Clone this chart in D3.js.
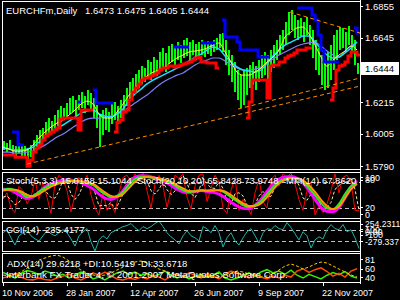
<!DOCTYPE html>
<html><head><meta charset="utf-8">
<script src="https://cdn.jsdelivr.net/npm/d3@7"></script>
<style>html,body{margin:0;padding:0;background:#000;overflow:hidden}svg{display:block}text{font-family:"Liberation Sans",Arial,sans-serif;fill:#fff}</style>
</head><body><svg id="c" width="400" height="300"></svg>
<script>
const symbolTitle = "EURCHFm,Daily";
const ohlcText = "1.6473 1.6475 1.6405 1.6444";
const lastPrice = 1.6444;
const priceTicks = [1.6855, 1.6645, 1.6215, 1.6005, 1.5790];
const dateLabels = ["10 Nov 2006","28 Jan 2007","12 Apr 2007","26 Jun 2007","9 Sep 2007","22 Nov 2007"];
const dateBars = [0,64,128,192,256,320];
const priceStep = 3;
const high = [1.5956,1.5943,1.5963,1.5929,1.5923,1.5943,1.5936,1.5923,1.5909,1.5929,
 1.5963,1.5996,1.6029,1.6043,1.6082,1.6109,1.6089,1.6129,1.6162,1.6189,
 1.6176,1.6209,1.6242,1.6256,1.6229,1.6262,1.6282,1.6256,1.6296,1.6276,
 1.6242,1.6196,1.6129,1.6162,1.6176,1.6149,1.6202,1.6216,1.6189,1.6229,
 1.6262,1.6309,1.6349,1.6376,1.6402,1.6429,1.6455,1.6442,1.6495,1.6482,
 1.6515,1.6495,1.6549,1.6575,1.6542,1.6589,1.6602,1.6575,1.6615,1.6595,
 1.6629,1.6642,1.6615,1.6629,1.6602,1.6615,1.6629,1.6602,1.6622,1.6609,
 1.6629,1.6642,1.6669,1.6675,1.6629,1.6562,1.6529,1.6482,1.6429,1.6396,
 1.6429,1.6442,1.6462,1.6482,1.6455,1.6495,1.6529,1.6549,1.6529,1.6562,
 1.6595,1.6629,1.6662,1.6695,1.6749,1.6815,1.6828,1.6795,1.6762,1.6775,
 1.6749,1.6782,1.6729,1.6695,1.6629,1.6575,1.6529,1.6495,1.6549,1.6595,
 1.6662,1.6695,1.6715,1.6709,1.6682,1.6722,1.6662,1.6629,1.6475];
const low = [1.5896,1.5883,1.5896,1.5863,1.5849,1.5876,1.5856,1.5843,1.5823,1.5849,
 1.5883,1.5909,1.5929,1.5963,1.5989,1.6009,1.6016,1.6043,1.6056,1.6082,
 1.6096,1.6109,1.6136,1.6149,1.6122,1.6162,1.6176,1.6142,1.6196,1.6162,
 1.6109,1.6043,1.5916,1.5996,1.6029,1.6016,1.6069,1.6096,1.6069,1.6109,
 1.6149,1.6189,1.6229,1.6256,1.6282,1.6309,1.6336,1.6349,1.6376,1.6362,
 1.6396,1.6389,1.6429,1.6442,1.6415,1.6469,1.6482,1.6455,1.6495,1.6475,
 1.6509,1.6522,1.6495,1.6529,1.6495,1.6515,1.6529,1.6515,1.6535,1.6522,
 1.6549,1.6562,1.6575,1.6549,1.6462,1.6396,1.6349,1.6282,1.6229,1.6176,
 1.6196,1.6262,1.6309,1.6329,1.6296,1.6349,1.6376,1.6396,1.6362,1.6415,
 1.6442,1.6495,1.6529,1.6562,1.6595,1.6662,1.6695,1.6642,1.6629,1.6655,
 1.6615,1.6662,1.6595,1.6509,1.6429,1.6396,1.6329,1.6296,1.6309,1.6362,
 1.6429,1.6495,1.6562,1.6575,1.6549,1.6595,1.6549,1.6462,1.6405];
const redStop = [1.5863,1.5863,1.5863,1.5863,1.5849,1.5849,1.5849,1.5849,1.5789,1.5829,
 1.5883,1.5909,1.5929,1.5963,1.5989,1.6003,1.6016,1.6029,1.6043,1.6102,
 1.6109,1.6109,1.6109,1.6109,1.6109,1.6029,1.6162,1.6162,1.6162,1.6162,
 null,null,null,null,null,null,null,1.6016,1.6082,1.6096,
 1.6149,1.6162,1.6229,1.6282,1.6309,1.6336,1.6362,1.6376,1.6376,1.6389,
 1.6396,1.6409,1.6429,1.6442,1.6442,1.6455,1.6455,1.6449,1.6455,1.6462,
 1.6469,1.6475,1.6482,1.6495,1.6509,1.6515,1.6482,1.6482,1.6475,1.6475,
 1.6475,1.6442,null,null,null,null,null,null,null,null,
 null,1.6109,1.6216,1.6362,1.6362,1.6362,1.6362,1.6362,1.6242,1.6455,
 1.6462,1.6462,1.6482,1.6482,1.6509,1.6522,1.6529,1.6542,1.6562,1.6562,
 1.6562,1.6575,1.6575,null,null,null,null,null,null,1.6229,
 1.6309,1.6429,1.6455,1.6462,1.6482,1.6522,1.6549,1.6549,1.6529];
const blueStop = [null,null,null,1.6016,1.6016,1.5929,1.5929,null,null,null,
 null,null,null,null,null,null,null,null,null,null,
 null,null,null,null,null,1.6216,null,null,null,null,
 1.6296,1.6209,1.6209,1.6209,1.6209,1.6209,1.6209,null,null,null,
 null,null,null,null,null,null,null,null,null,null,
 null,null,null,null,null,null,null,1.6582,1.6582,1.6582,
 1.6582,1.6582,null,null,null,null,1.6609,1.6609,1.6609,1.6609,
 1.6609,null,null,1.6762,1.6649,1.6649,1.6649,1.6649,1.6615,1.6562,
 1.6562,1.6562,1.6562,1.6562,1.6562,1.6515,1.6515,1.6515,1.6515,null,
 null,null,null,null,null,null,null,null,1.6842,1.6842,
 1.6842,1.6842,1.6842,1.6795,1.6762,1.6662,1.6562,1.6482,1.6482,1.6482,
 1.6482,1.6482,null,null,null,null,null,1.6708,1.6675];
const maStep = 6;
const maFast = [1.5916,1.5903,1.5889,1.5889,1.5896,1.5929,1.5976,1.6016,1.6049,1.6076,
 1.6096,1.6129,1.6162,1.6202,1.6222,1.6202,1.6136,1.6109,1.6109,1.6149,
 1.6202,1.6262,1.6309,1.6356,1.6389,1.6415,1.6429,1.6449,1.6482,1.6509,
 1.6529,1.6549,1.6555,1.6562,1.6575,1.6595,1.6609,1.6549,1.6482,1.6415,
 1.6395,1.6395,1.6415,1.6442,1.6482,1.6515,1.6562,1.6649,1.6682,1.6709,
 1.6715,1.6669,1.6595,1.6515,1.6455,1.6495,1.6529,1.6555,1.6589,1.6562];
const maMid = [1.5909,1.5903,1.5896,1.5896,1.5903,1.5916,1.5949,1.5983,1.6016,1.6043,
 1.6063,1.6089,1.6116,1.6142,1.6156,1.6162,1.6136,1.6122,1.6116,1.6136,
 1.6169,1.6229,1.6269,1.6302,1.6336,1.6362,1.6382,1.6402,1.6422,1.6442,
 1.6462,1.6489,1.6515,1.6535,1.6562,1.6582,1.6569,1.6522,1.6482,1.6449,
 1.6429,1.6422,1.6415,1.6429,1.6475,1.6522,1.6562,1.6595,1.6615,1.6635,
 1.6655,1.6655,1.6615,1.6569,1.6529,1.6509,1.6515,1.6542,1.6575,1.6615];
const maSlow = [1.5883,1.5883,1.5876,1.5876,1.5883,1.5889,1.5909,1.5929,1.5956,1.5983,
 1.6003,1.6029,1.6056,1.6082,1.6102,1.6109,1.6109,1.6116,1.6122,1.6136,
 1.6156,1.6182,1.6209,1.6236,1.6262,1.6296,1.6329,1.6356,1.6376,1.6395,
 1.6409,1.6435,1.6462,1.6482,1.6495,1.6509,1.6509,1.6489,1.6462,1.6442,
 1.6429,1.6429,1.6435,1.6449,1.6475,1.6502,1.6529,1.6549,1.6569,1.6589,
 1.6602,1.6609,1.6615,1.6589,1.6555,1.6529,1.6515,1.6555,1.6589,1.6615];
// trend lines: [bar0, price0, bar1, price1]
const trendLines = [[24,1.5803,357,1.6322],[235,1.6169,357,1.6376],[287,1.6815,357,1.6675]];

const stochLabels = ["Stoch(5,3,3) 15.0158 15.1044","Stoch(20,10,20) 65.8428 73.9748","MFI(14) 67.8620"];
const fastStep = 4;
const stochFast = [40,55,20,10,70,60,30,45,85,40, 80,45,8,75,95,85,60,12,50,90,
 75,95,50,20,5,55,15,30,10,55, 90,95,80,98,85,100,60,20,75,95,
 70,22,60,95,88,98,45,18,70,95, 98,35,65,95,80,20,8,60,90,15,
 40,25,5,55,85,35,20,85,95,70, 98,90,100,75,40,15,60,80,5,25,
 10,30,60,98,55,90,95,80,15,15.0158];
const stochFastSignal = [45,48,38,28,33,47,53,45,53,57, 68,55,44,43,59,85,80,52,40,51,
 72,87,73,55,25,27,25,33,18,32, 52,80,88,91,88,94,82,60,52,63,
 80,62,51,59,81,94,77,54,44,61, 88,76,66,65,80,65,36,29,53,55,
 48,27,23,28,48,58,47,47,67,83, 88,86,96,88,72,43,38,52,48,37,
 13,22,33,63,71,81,80,88,63,15.1044];
const stochSlowMain = [61,64,61,55,45,48,57,66,73,77, 80,82,82,80,77,73,61,52,45,48,
 57,73,86,91,91,89,86,82,77,68, 61,57,59,61,59,61,61,55,45,36,
 27,23,27,36,52,68,80,86,89,86, 80,66,50,32,20,18,30,52,70,77];
const stochSlowSignal = [60,62,62,58,50,47,52,61,69,75, 78,81,82,81,79,75,66,56,48,46,
 52,66,80,88,91,90,88,84,80,72, 65,59,58,60,60,60,61,58,50,40,
 31,25,25,31,45,62,76,84,88,88, 83,72,57,39,25,18,24,43,63,75];
const thirdOsc = [63,62,56,48,42,45,56,68,76,80, 84,84,82,78,72,64,52,43,40,46,
 60,78,90,94,93,90,86,80,72,63, 57,55,58,60,58,56,52,44,34,25,
 20,19,26,40,58,75,86,91,92,88, 78,60,40,22,13,12,22,44,68,82];

const cciLabel = "CCI(14) -235.4177";
const cci = [45,100,-45,-173,-9,45,82,-9,-64,-100, -9,82,27,-9,45,100,45,-64,-191,-9,
 64,118,-118,-279.337,-82,-9,-64,45,82,118, 155,173,209,136,82,155,118,155,209,254.2311,
 155,45,-27,-82,-155,-9,82,-9,-45,-100, 155,118,45,173,45,-209,-45,45,-100,-173,
 -45,64,118,-9,-136,45,118,100,173,118, 100,227,136,27,-82,64,-9,-227,-82,-27,
 -64,100,191,118,100,191,64,100,-45,-235.4177];

const adxLabel = "ADX(14) 29.6218 +DI:10.5419 -DI:33.6718";
const copyright = "Interbank FX Trader 4, \u00A9 2001-2007 MetaQuotes Software Corp.";
const adx = [46.5,44.3,48.6,53,61.6,70.2,78.8,83.2,87.5,89.6, 85.3,76.7,65.9,57.3,50.8,46.5,44.3,46.5,50.8,57.3,
 63.7,70.2,74.5,76.7,72.4,65.9,59.4,55.1,50.8,46.5, 44.3,42.2,42.2,44.3,44.3,42.2,42.2,46.5,50.8,55.1,
 53,48.6,44.3,42.2,44.3,48.6,57.3,65.9,70.2,65.9, 59.4,63.7,70.2,74.5,72.4,65.9,59.4,53,46.5,42.2];
const plusDI = [52,46,40,50,56,53,47,55,51,44, 48,40,46,53,49,38,42,36,44,51,
 55,48,53,46,50,43,48,55,46,40, 45,38,43,48,42,46,53,40,36,40,
 45,51,44,53,58,51,55,48,57,46, 40,48,43,38,46,52,47,54,44,40];
const minusDI = [40,44,49,42,37,36,40,37,35,40, 44,49,40,36,42,51,46,53,45,38,
 36,40,37,42,38,46,42,36,44,49, 43,51,46,40,48,44,38,48,55,51,
 46,40,48,42,38,44,40,46,42,55, 60,52,58,62,54,44,50,42,55,60];

// ---------- drawing ----------
const svg = d3.select('#c');
svg.append('rect').attr('width',400).attr('height',300).attr('fill','#000');
const L = 2, R = 360;
const panels = {
  main: {top:1, bottom:169},
  stoch:{top:172, bottom:218},
  cci:  {top:221, bottom:251},
  adx:  {top:253, bottom:282}
};
const xs = d3.scaleLinear().domain([0,357]).range([3,360]);
const yP = d3.scaleLinear().domain([1.5790,1.6855]).range([166,6]);
const yS = d3.scaleLinear().domain([0,100]).range([217,173]);
const yC = d3.scaleLinear().domain([-279.337,254.2311]).range([251,221]);
const yA = d3.scaleLinear().domain([31.4,94]).range([282,253]);

const defs = svg.append('defs');
Object.entries(panels).forEach(([k,p])=>{
  defs.append('clipPath').attr('id','clip-'+k).append('rect')
    .attr('x',L+1).attr('y',p.top+1).attr('width',R-L-1).attr('height',p.bottom-p.top-1);
});
const g = {};
Object.keys(panels).forEach(k=>{ g[k] = svg.append('g').attr('clip-path','url(#clip-'+k+')'); });

// main: price bars
g.main.selectAll('rect.bar').data(high).join('rect').attr('class','bar')
  .attr('x',(d,k)=>xs(k*priceStep)).attr('width',2)
  .attr('y',d=>yP(d)).attr('height',(d,k)=>Math.max(1,yP(low[k])-yP(d)))
  .attr('fill','#00ff00').attr('shape-rendering','crispEdges');

const maLine = d3.line().x((d,j)=>xs(j*maStep)).y(d=>yP(d)).curve(d3.curveMonotoneX);
g.main.append('path').attr('d',maLine(maSlow)).attr('fill','none').attr('stroke','#8080ff').attr('stroke-width',1.2);
g.main.append('path').attr('d',maLine(maMid)).attr('fill','none').attr('stroke','#20e0ff').attr('stroke-width',1.5);
g.main.append('path').attr('d',maLine(maFast)).attr('fill','none').attr('stroke','#ffff40').attr('stroke-width',1);

function stepPath(vals, step, ys){
  let d='';
  vals.forEach((v,k)=>{
    if(v==null) return;
    const x0=xs(k*step), x1=xs(k*step+step), y=ys(v);
    d += (k>0 && vals[k-1]!=null) ? `L${x0},${y}` : `M${x0},${y}`;
    d += `L${x1},${y}`;
  });
  return d;
}
g.main.append('path').attr('d',stepPath(redStop,priceStep,yP)).attr('fill','none').attr('stroke','#ff0000').attr('stroke-width',3);
g.main.append('path').attr('d',stepPath(blueStop,priceStep,yP)).attr('fill','none').attr('stroke','#0000ff').attr('stroke-width',3);

trendLines.forEach(t=>{
  g.main.append('line').attr('x1',xs(t[0])).attr('y1',yP(t[1])).attr('x2',xs(t[2])).attr('y2',yP(t[3]))
    .attr('stroke','#ff8c00').attr('stroke-width',1).attr('stroke-dasharray','4,3');
});

// stoch panel
[20,80].forEach(v=>g.stoch.append('line').attr('x1',L).attr('x2',R).attr('y1',Math.round(yS(v))+0.5).attr('y2',Math.round(yS(v))+0.5)
  .attr('stroke','#c0c0c0').attr('stroke-dasharray','4,3'));
const fastLine = d3.line().x((d,m)=>xs(m*fastStep)).y(d=>yS(d));
g.stoch.append('path').attr('d',fastLine(stochFast)).attr('fill','none').attr('stroke','#ff0000').attr('stroke-width',1);
g.stoch.append('path').attr('d',fastLine(stochFastSignal)).attr('fill','none').attr('stroke','#ffe8a0').attr('stroke-width',1).attr('stroke-dasharray','3,2');
const slowLine = d3.line().x((d,j)=>xs(j*maStep)).y(d=>yS(d)).curve(d3.curveMonotoneX);
g.stoch.append('path').attr('d',slowLine(thirdOsc)).attr('fill','none').attr('stroke','#ff00ff').attr('stroke-width',3);
g.stoch.append('path').attr('d',slowLine(stochSlowMain)).attr('fill','none').attr('stroke','#22ee22').attr('stroke-width',2);
g.stoch.append('path').attr('d',slowLine(stochSlowSignal)).attr('fill','none').attr('stroke','#ff9900').attr('stroke-width',2);

// cci panel
[100,-100].forEach(v=>g.cci.append('line').attr('x1',L).attr('x2',R).attr('y1',Math.round(yC(v))+0.5).attr('y2',Math.round(yC(v))+0.5)
  .attr('stroke','#c0c0c0').attr('stroke-dasharray','4,3'));
g.cci.append('path').attr('d',fastLine.y(d=>yC(d))(cci)).attr('fill','none').attr('stroke','#20b2aa').attr('stroke-width',1);

// adx panel
const adxLine = d3.line().x((d,j)=>xs(j*maStep)).y(d=>yA(d));
g.adx.append('path').attr('d',adxLine(plusDI)).attr('fill','none').attr('stroke','#33ee00').attr('stroke-width',1.5);
g.adx.append('path').attr('d',adxLine(minusDI)).attr('fill','none').attr('stroke','#ff4a00').attr('stroke-width',1.5);
g.adx.append('path').attr('d',adxLine(adx)).attr('fill','none').attr('stroke','#ffcc00').attr('stroke-width',1).attr('stroke-dasharray','3,2');

// frames
const fr = svg.append('g').attr('stroke','#fff').attr('stroke-width',1).attr('shape-rendering','crispEdges');
Object.values(panels).forEach(p=>{
  fr.append('line').attr('x1',L).attr('x2',R).attr('y1',p.top+0.5).attr('y2',p.top+0.5);
  fr.append('line').attr('x1',L).attr('x2',R).attr('y1',p.bottom+0.5).attr('y2',p.bottom+0.5);
  fr.append('line').attr('x1',L+0.5).attr('x2',L+0.5).attr('y1',p.top).attr('y2',p.bottom+1);
});
fr.append('line').attr('x1',R+0.5).attr('x2',R+0.5).attr('y1',0).attr('y2',284);
dateBars.forEach(b=>fr.append('line').attr('x1',Math.round(xs(b))+0.5).attr('x2',Math.round(xs(b))+0.5).attr('y1',282).attr('y2',286));

// right axis labels
const tx = svg.append('g');
function rlabel(txt, yc, size){
  fr.append('line').attr('x1',R).attr('x2',R+3).attr('y1',Math.round(yc)+0.5).attr('y2',Math.round(yc)+0.5);
  tx.append('text').attr('x',365).attr('y',yc+3.5).attr('font-size',size||9).text(txt);
}
priceTicks.forEach(p=>rlabel(d3.format('.4f')(p), yP(p), 9.5));
// current price box
const ly = yP(lastPrice);
svg.append('rect').attr('x',361).attr('y',Math.round(ly)-6).attr('width',38).attr('height',13).attr('fill','#fff');
svg.append('line').attr('x1',R).attr('x2',R+3).attr('y1',Math.round(ly)+0.5).attr('y2',Math.round(ly)+0.5).attr('stroke','#fff');
svg.append('text').attr('x',365).attr('y',Math.round(ly)+4).attr('font-size',9.5).style('fill','#000').text(d3.format('.4f')(lastPrice));

// sub-window labels right (overlapping as in the reference)
rlabel('100', yS(100)+4, 9); rlabel('80', yS(80)-2, 9); rlabel('20', yS(20)-1, 9); rlabel('0', yS(0)-3, 9);
rlabel('254.2311', yC(254.2311)+2.5, 8.6); rlabel('100', yC(100)-0.5, 9); rlabel('0.00', yC(0)-4, 9);
rlabel('-100', yC(-100)-6, 9); rlabel('-279.337', yC(-279.337)-10, 8.6);
rlabel('81', yA(81), 9); rlabel('60', yA(60), 9); rlabel('40', yA(40)-1, 9);

// titles
tx.append('text').attr('x',6).attr('y',14).attr('font-size',9.5).text(symbolTitle);
tx.append('text').attr('x',85).attr('y',14).attr('font-size',9.5).text(ohlcText);
tx.append('text').attr('x',6).attr('y',184).attr('font-size',9.5).text(stochLabels[0]);
tx.append('text').attr('x',137).attr('y',184).attr('font-size',9.5).text(stochLabels[1]);
tx.append('text').attr('x',286).attr('y',184).attr('font-size',9.5).text(stochLabels[2]);
tx.append('text').attr('x',6).attr('y',233).attr('font-size',9.5).text(cciLabel);
tx.append('text').attr('x',7).attr('y',267).attr('font-size',9.5).text(adxLabel);
tx.append('text').attr('x',6).attr('y',278).attr('font-size',9.8).text(copyright);
dateBars.forEach((b,i)=>tx.append('text').attr('x',Math.round(xs(b))-1).attr('y',296).attr('font-size',9).text(dateLabels[i]));
</script></body></html>
